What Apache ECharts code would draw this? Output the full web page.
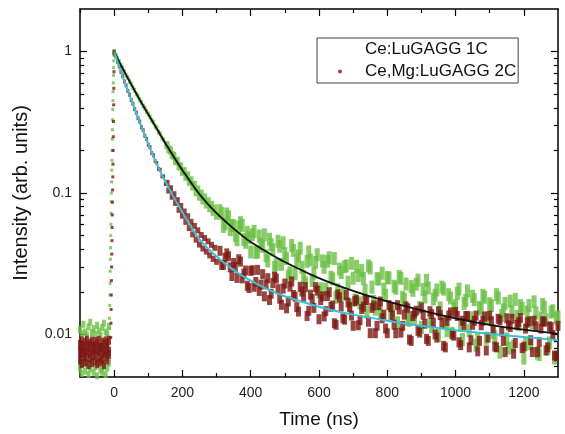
<!DOCTYPE html>
<html>
<head>
<meta charset="utf-8">
<script src="https://cdn.jsdelivr.net/npm/echarts@6/dist/echarts.min.js"></script>
<style>
html, body { margin: 0; padding: 0; background: #fff; }
#chart { width: 565px; height: 434px; }
</style>
</head>
<body>
<div id="chart"></div>
<script>
// values (time in ns, intensity in arb. units)

// pre-pulse baseline, t = -100 .. -15 every 5 ns
var baseStart = -100, baseStep = 5;
var greenBaseHi = [0.0108,0.0101,0.0118,0.0104,0.0099,0.0113,0.0122,0.0103,0.0110,0.0100,0.0116,0.0106,0.0099,0.0112,0.0120,0.0104,0.0101,0.0114];
var greenBaseLo = [0.0058,0.0053,0.0063,0.0055,0.0061,0.0052,0.0057,0.0064,0.0054,0.0059,0.0051,0.0062,0.0056,0.0054,0.0060,0.0052,0.0058,0.0063];
var redBaseHi = [0.0085,0.0090,0.0082,0.0088,0.0091,0.0084,0.0087,0.0090,0.0083,0.0089,0.0086,0.0091,0.0081,0.0088,0.0085,0.0090,0.0087,0.0091];
var redBaseMid = [0.0076,0.0079,0.0074,0.0078,0.0075,0.0080,0.0073,0.0077,0.0079,0.0074,0.0078,0.0076,0.0080,0.0073,0.0077,0.0075,0.0079,0.0076];
var redBaseLo = [0.0066,0.0062,0.0070,0.0064,0.0069,0.0061,0.0068,0.0063,0.0071,0.0065,0.0062,0.0069,0.0064,0.0067,0.0061,0.0070,0.0066,0.0072];

// rising edge, every 0.5 ns
var greenRiseStart = -14, redRiseStart = -10, riseStep = 0.5;
var greenRise = [0.011,0.013,0.016,0.019,0.023,0.028,0.034,0.041,0.05,0.06,0.072,0.087,0.1,0.12,0.145,0.17,0.2,0.24,0.28,0.33,0.39,0.45,0.52,0.6,0.68,0.77,0.86,0.94,1.0];
var redRise = [0.0095,0.012,0.015,0.019,0.024,0.03,0.037,0.046,0.057,0.07,0.086,0.105,0.13,0.16,0.2,0.25,0.32,0.42,0.55,0.72,0.97];

// early decay, t = 0 .. 300 every 5 ns
var earlyStart = 0, earlyStep = 5;
var greenEarly = [1.0,0.95,0.89,0.85,0.80,0.765,0.72,0.68,0.655,0.615,0.59,0.556,0.532,0.502,0.483,0.455,0.437,0.413,0.398,0.376,0.362,0.345,0.326,0.316,0.296,0.288,0.27,0.262,0.245,0.238,0.222,0.218,0.203,0.2,0.186,0.183,0.168,0.169,0.155,0.154,0.141,0.143,0.13,0.133,0.12,0.123,0.111,0.114,0.101,0.106,0.094,0.099,0.0885,0.093,0.083,0.0875,0.078,0.0825,0.0735,0.0778,0.069];
var redEarly = [0.99,0.925,0.845,0.785,0.717,0.67,0.614,0.576,0.527,0.495,0.454,0.428,0.392,0.37,0.338,0.32,0.292,0.278,0.254,0.241,0.219,0.211,0.192,0.185,0.168,0.163,0.148,0.146,0.131,0.131,0.116,0.118,0.104,0.108,0.094,0.098,0.085,0.089,0.076,0.081,0.069,0.074,0.0625,0.0685,0.0565,0.0625,0.051,0.0585,0.0468,0.0545,0.0432,0.0505,0.0405,0.048,0.0385,0.0455,0.0362,0.043,0.0342,0.041,0.0326];

// late decay, t = 310 .. 1300 every 10 ns
var lateStart = 310, lateStep = 10;
var greenLate = [0.075,0.058,0.071,0.055,0.0586,0.0467,0.0617,0.0469,0.0527,0.0383,
  0.0535,0.0383,0.0435,0.0506,0.0331,0.0432,0.0297,0.0456,0.0313,0.0373,
  0.0258,0.0426,0.0268,0.0359,0.0298,0.0231,0.0383,0.0241,0.0324,0.0199,
  0.0331,0.0209,0.0348,0.0247,0.0183,0.029,0.0192,0.0305,0.0161,0.025,
  0.0303,0.0167,0.0249,0.0144,0.0295,0.0171,0.0248,0.0141,0.0209,0.0253,
  0.014,0.0219,0.0121,0.0249,0.0177,0.0127,0.0218,0.0132,0.0242,0.0112,
  0.0184,0.0213,0.0113,0.0189,0.0098,0.0216,0.0122,0.0191,0.0102,0.016,
  0.0209,0.0092,0.0174,0.0106,0.0186,0.0084,0.0155,0.0189,0.0094,0.0165,
  0.0103,0.0191,0.0075,0.0149,0.0093,0.0172,0.0082,0.0134,0.016,0.0068,
  0.0144,0.0086,0.017,0.0074,0.0131,0.0156,0.0079,0.0144,0.0068,0.0133];
var redLate = [0.039,0.031,0.0374,0.0298,0.032,0.0251,0.0327,0.0269,0.0221,0.0282,
  0.0217,0.0286,0.0225,0.0186,0.025,0.0194,0.0256,0.0209,0.0162,0.0229,
  0.0171,0.0237,0.0185,0.0145,0.0201,0.0216,0.0147,0.0178,0.0216,0.0128,
  0.0186,0.0146,0.0199,0.016,0.0117,0.0183,0.013,0.019,0.0156,0.0115,
  0.0176,0.0126,0.0157,0.0175,0.0102,0.016,0.0115,0.0171,0.0138,0.0102,
  0.0156,0.0117,0.0161,0.0103,0.0138,0.0153,0.009,0.0141,0.0106,0.0155,
  0.0119,0.009,0.0139,0.01,0.0146,0.0121,0.0081,0.0136,0.0101,0.0144,
  0.0088,0.0125,0.0135,0.0081,0.0117,0.0136,0.009,0.0125,0.0077,0.0136,
  0.0108,0.0081,0.0126,0.009,0.013,0.0113,0.0073,0.0117,0.0131,0.0082,
  0.0121,0.0091,0.0125,0.0075,0.011,0.0123,0.0081,0.0113,0.0071,0.0115];

// late decay, in-between channels, t = 315 .. 1295 every 10 ns
var late2Start = 315;
var greenLate2 = [0.0715,0.0605,0.0678,0.0589,0.050,0.0575,0.059,0.0448,0.0482,0.0507,
  0.038,0.0496,0.0419,0.036,0.0471,0.0397,0.0313,0.042,0.0445,0.0344,
  0.0273,0.0393,0.0332,0.0407,0.0256,0.0329,0.0336,0.0272,0.0366,0.021,
  0.0298,0.0329,0.0254,0.0344,0.0207,0.0274,0.0301,0.0234,0.0318,0.0175,
  0.0261,0.0283,0.0205,0.0305,0.0216,0.0151,0.0246,0.0271,0.0189,0.0251,
  0.0149,0.0212,0.0257,0.0183,0.0227,0.0126,0.0205,0.0227,0.0155,0.0208,
  0.0241,0.0125,0.0178,0.0206,0.0154,0.0209,0.0106,0.0181,0.0153,0.0195,
  0.0117,0.0166,0.0203,0.0131,0.0176,0.0092,0.0151,0.0183,0.0131,0.016,
  0.0096,0.0181,0.0136,0.0166,0.008,0.0145,0.0177,0.0117,0.0153,0.0085,
  0.016,0.0121,0.0142,0.0072,0.0163,0.0127,0.0087,0.0147,0.013];
var redLate2 = [0.031,0.0349,0.0357,0.0259,0.03,0.034,0.0249,0.0283,0.0213,0.0284,
  0.0235,0.0203,0.0267,0.0226,0.0175,0.0231,0.0248,0.0179,0.0211,0.0153,
  0.0218,0.019,0.0156,0.0217,0.0185,0.0135,0.0191,0.0154,0.0204,0.0175,
  0.0134,0.0187,0.0157,0.012,0.0192,0.0158,0.0127,0.0168,0.0136,0.0172,
  0.0116,0.0151,0.0175,0.0123,0.0154,0.0102,0.0161,0.013,0.011,0.0161,
  0.0136,0.0102,0.015,0.0115,0.0158,0.0092,0.0135,0.0147,0.0103,0.0138,
  0.0093,0.0146,0.0121,0.0095,0.0137,0.0083,0.0125,0.0143,0.0098,0.0135,
  0.0084,0.0116,0.0135,0.0091,0.0125,0.0076,0.0116,0.0134,0.0095,0.0124,
  0.0082,0.0129,0.0105,0.0075,0.0116,0.0129,0.0087,0.0122,0.008,0.011,
  0.0124,0.0075,0.0114,0.0088,0.0124,0.0077,0.0114,0.0099,0.007];

// fitted curves
var greenFitT = [0,20,40,60,80,100,125,150,175,200,250,300,350,400,450,500,600,700,800,900,1000,1100,1200,1300];
var greenFit = [1.0,0.8,0.65,0.53,0.435,0.36,0.285,0.225,0.18,0.145,0.098,0.072,0.056,0.045,0.038,0.0325,0.025,0.0203,0.0171,0.0148,0.013,0.0117,0.0108,0.0101];
var redFitT = [0,20,40,60,80,100,125,150,175,200,225,250,300,350,400,450,500,600,700,800,900,1000,1100,1200,1300];
var redFit = [1.0,0.72,0.53,0.395,0.295,0.222,0.16,0.12,0.093,0.073,0.058,0.047,0.0355,0.0285,0.024,0.0208,0.0186,0.0157,0.0138,0.0125,0.0115,0.0107,0.0101,0.0096,0.0091];

// axis ticks
var xLabels = [0,200,400,600,800,1000,1200];
var xMinorTicks = [-100,100,300,500,700,900,1100];
var yLabels = [0.01,0.1,1];
var yMinorTicks = [0.006,0.007,0.008,0.009,0.02,0.03,0.04,0.05,0.06,0.07,0.08,0.09,0.2,0.3,0.4,0.5,0.6,0.7,0.8,0.9];

function seg(start, step, vals) {
  var out = [];
  for (var i = 0; i < vals.length; i++) out.push([start + i * step, vals[i]]);
  return out;
}
function pairs(ts, vals) {
  return ts.map(function (t, i) { return [t, vals[i]]; });
}

var greenPts = [].concat(
  seg(baseStart, baseStep, greenBaseHi), seg(baseStart, baseStep, greenBaseLo),
  seg(greenRiseStart, riseStep, greenRise),
  seg(earlyStart, earlyStep, greenEarly),
  seg(lateStart, lateStep, greenLate), seg(late2Start, lateStep, greenLate2));
var redPts = [].concat(
  seg(baseStart, baseStep, redBaseHi), seg(baseStart, baseStep, redBaseMid), seg(baseStart, baseStep, redBaseLo),
  seg(redRiseStart, riseStep, redRise),
  seg(earlyStart, earlyStep, redEarly),
  seg(lateStart, lateStep, redLate), seg(late2Start, lateStep, redLate2));

var font = 'Liberation Sans, Arial, sans-serif';
var frame = { show: true, onZero: false, lineStyle: { color: '#000', width: 1.5 } };

function xAx(grid, pos, ticks, len, main) {
  return {
    type: 'value', gridIndex: grid, position: pos, min: -100, max: 1300,
    axisLine: main ? frame : { show: false, onZero: false },
    axisTick: { show: true, inside: true, length: len, customValues: ticks, lineStyle: { color: '#000', width: 1.2 } },
    axisLabel: (main && pos === 'bottom') ? {
      show: true, customValues: xLabels, fontSize: 14, color: '#222', fontFamily: font, margin: 9,
      formatter: function (v) { return String(v); }
    } : { show: false },
    splitLine: { show: false },
    name: (main && pos === 'bottom') ? 'Time (ns)' : '',
    nameLocation: 'middle', nameGap: 33,
    nameTextStyle: { fontSize: 19, color: '#111', fontFamily: font }
  };
}
function yAx(grid, pos, ticks, len, main) {
  return {
    type: 'log', logBase: 10, gridIndex: grid, position: pos, min: 0.005, max: 2,
    axisLine: main ? frame : { show: false, onZero: false },
    axisTick: { show: true, inside: true, length: len, customValues: ticks, lineStyle: { color: '#000', width: 1.2 } },
    axisLabel: (main && pos === 'left') ? {
      show: true, customValues: yLabels, fontSize: 14, color: '#222', fontFamily: font, margin: 8,
      formatter: function (v) { return String(parseFloat(Number(v).toPrecision(3))); }
    } : { show: false },
    splitLine: { show: false },
    minorTick: { show: false },
    name: (main && pos === 'left') ? 'Intensity (arb. units)' : '',
    nameLocation: 'middle', nameGap: 49,
    nameTextStyle: { fontSize: 20, color: '#111', fontFamily: font }
  };
}

var gridBox = { left: 80, right: 7, top: 9, bottom: 57 };

var chart = echarts.init(document.getElementById('chart'), null, { renderer: 'canvas' });
chart.setOption({
  animation: false,
  backgroundColor: '#fff',
  grid: [
    Object.assign({}, gridBox, { show: false }),
    Object.assign({}, gridBox, { show: false })
  ],
  legend: {
    left: 317, top: 38, orient: 'vertical',
    borderColor: '#444', borderWidth: 1, borderRadius: 0,
    padding: [3, 2, 3, 21], itemGap: 5,
    itemWidth: 4, itemHeight: 4, icon: 'circle',
    selectedMode: false,
    textStyle: { fontSize: 17, color: '#111', fontFamily: font, padding: [0, 0, 0, 18] },
    data: [
      { name: 'Ce:LuGAGG 1C', itemStyle: { opacity: 0 } },
      { name: 'Ce,Mg:LuGAGG 2C' }
    ]
  },
  xAxis: [
    xAx(0, 'bottom', xLabels, 7, true),
    xAx(0, 'top', xLabels, 7, true),
    xAx(1, 'bottom', xMinorTicks, 4, false),
    xAx(1, 'top', xMinorTicks, 4, false)
  ],
  yAxis: [
    yAx(0, 'left', yLabels, 7, true),
    yAx(0, 'right', yLabels, 7, true),
    yAx(1, 'left', yMinorTicks, 4, false),
    yAx(1, 'right', yMinorTicks, 4, false)
  ],
  series: [
    {
      name: 'Ce:LuGAGG 1C', type: 'scatter', xAxisIndex: 0, yAxisIndex: 0,
      data: greenPts, symbol: 'rect', silent: true,
      symbolSize: function (d) {
        if (d[0] > 300) return [5, 13];
        if (d[0] < -14) return [4, 7];
        if (d[0] < 0) return [3, 3];
        return d[0] > 150 ? [5, 8] : [3, 5];
      },
      itemStyle: { color: '#6cbf45' }, z: 2
    },
    {
      name: 'Ce,Mg:LuGAGG 2C', type: 'scatter', xAxisIndex: 0, yAxisIndex: 0,
      data: redPts, symbol: 'rect', silent: true,
      symbolSize: function (d) {
        if (d[0] > 300) return [5, 10];
        if (d[0] < -10) return [4, 9];
        if (d[0] < 0) return [3, 3];
        return d[0] > 150 ? [5, 6] : [3, 4];
      },
      itemStyle: { color: '#7d1612' }, z: 3
    },
    {
      name: 'fit 1C', type: 'line', xAxisIndex: 0, yAxisIndex: 0,
      data: pairs(greenFitT, greenFit), smooth: 0.3, showSymbol: false, silent: true,
      lineStyle: { color: '#111', width: 1.8 }, z: 4
    },
    {
      name: 'fit 2C', type: 'line', xAxisIndex: 0, yAxisIndex: 0,
      data: pairs(redFitT, redFit), smooth: 0.3, showSymbol: false, silent: true,
      lineStyle: { color: '#3bbfd6', width: 2 }, z: 5
    }
  ]
});
</script>
</body>
</html>
